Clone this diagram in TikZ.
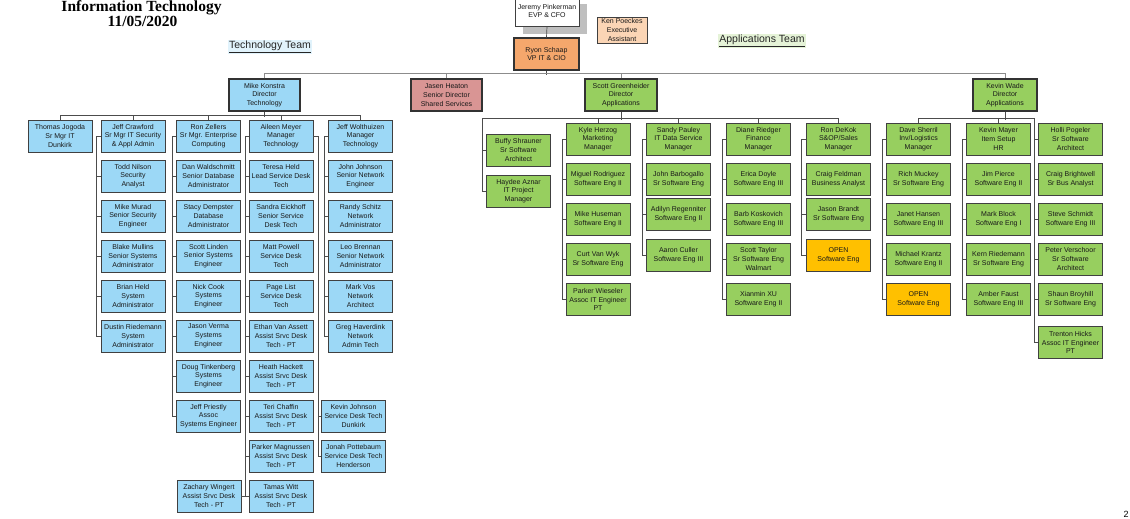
\documentclass[tikz,border=0pt]{standalone}
\usepackage{fontspec}
\setmainfont{Liberation Sans}
\newfontfamily\titlefont{Liberation Serif}
\usetikzlibrary{shadows}
\definecolor{techblue}{HTML}{9CD8F6}
\definecolor{appgreen}{HTML}{97CF5F}
\definecolor{openyellow}{HTML}{FFC000}
\definecolor{cioorange}{HTML}{F5A76C}
\definecolor{assistpeach}{HTML}{FBD5B5}
\definecolor{sharedred}{HTML}{D99594}
\tikzset{
  box/.style={draw=black!75, line width=0.7pt, minimum width=64pt, minimum height=32pt,
    inner sep=0pt, align=center, font=\fontsize{7}{8.7}\selectfont, text=black!90},
  tbox/.style={box, fill=techblue},
  abox/.style={box, fill=appgreen},
  obox/.style={box, fill=openyellow},
  dirbox/.style={line width=1.3pt, draw=black!80},
  conn/.style={draw=black!70, line width=0.7pt},
  teamlabel/.style={inner sep=1pt, font=\fontsize{10.5}{12}\selectfont, text=black!85}
}
\begin{document}
\begin{tikzpicture}[x=1pt,y=-1pt]
    \useasboundingbox (0,0) rectangle (1130,519);
    %% Title
    \node[font=\titlefont\bfseries\fontsize{15.5}{17}\selectfont, anchor=base] (title) at (141.5,11.2) {Information Technology};
    \node[font=\titlefont\bfseries\fontsize{15.5}{17}\selectfont, anchor=base] (titledate) at (142.5,27) {11/05/2020};
    \node[teamlabel, fill=techblue!30] (techteam) at (270,47) {\underline{Technology Team}};
    \node[teamlabel, fill=appgreen!25] (appteam) at (762,41) {\underline{Applications Team}};
    %% Executives
    \node[box, fill=white, minimum height=30pt,
      drop shadow={shadow xshift=8pt, shadow yshift=-8pt, fill=black!25, opacity=1}] (jeremy) at (547,11) {Jeremy Pinkerman\\EVP \& CFO};
    \node[box, fill=assistpeach, minimum width=50pt, minimum height=26pt] (poeckes) at (622,30) {Ken Poeckes\\Executive\\Assistant};
    \node[box, dirbox, fill=cioorange, minimum width=65pt] (ryon) at (546.5,54) {Ryon Schaap\\VP IT \& CIO};
    %% Directors
    \node[tbox, dirbox, minimum width=71pt] (konstra) at (264.5,95) {Mike Konstra\\Director\\Technology};
    \node[box, dirbox, fill=sharedred, minimum width=71pt] (heaton) at (446.5,95) {Jasen Heaton\\Senior Director\\Shared Services};
    \node[abox, dirbox, minimum width=72pt] (greenheider) at (621,95) {Scott Greenheider\\Director\\Applications};
    \node[abox, dirbox] (wade) at (1005,95) {Kevin Wade\\Director\\Applications};
    %% Technology team
    \node[tbox] (thomas) at (60,136) {Thomas Jogoda\\Sr Mgr IT\\Dunkirk};
    \node[tbox] (crawford) at (133,136) {Jeff Crawford\\Sr Mgr IT Security\\\& Appl Admin};
    \node[tbox] (nilson) at (133,176) {Todd Nilson\\Security\\Analyst};
    \node[tbox] (murad) at (133,216) {Mike Murad\\Senior Security\\Engineer};
    \node[tbox] (mullins) at (133,256) {Blake Mullins\\Senior Systems\\Administrator};
    \node[tbox] (held) at (133,296) {Brian Held\\System\\Administrator};
    \node[tbox] (riedemann) at (133,336) {Dustin Riedemann\\System\\Administrator};
    \node[tbox] (zellers) at (208.5,136) {Ron Zellers\\Sr Mgr. Enterprise\\Computing};
    \node[tbox] (waldschmitt) at (208.5,176) {Dan Waldschmitt\\Senior Database\\Administrator};
    \node[tbox] (dempster) at (208.5,216) {Stacy Dempster\\Database\\Administrator};
    \node[tbox] (linden) at (208.5,256) {Scott Linden\\Senior Systems\\Engineer};
    \node[tbox] (cook) at (208.5,296) {Nick Cook\\Systems\\Engineer};
    \node[tbox] (verma) at (208.5,336) {Jason Verma\\Systems\\Engineer};
    \node[tbox] (tinkenberg) at (208.5,376) {Doug Tinkenberg\\Systems\\Engineer};
    \node[tbox] (priestly) at (208.5,416) {Jeff Priestly\\Assoc\\Systems Engineer};
    \node[tbox] (wingert) at (209,496) {Zachary Wingert\\Assist Srvc Desk\\Tech - PT};
    \node[tbox] (aileen) at (281,136) {Aileen Meyer\\Manager\\Technology};
    \node[tbox] (teresa) at (281,176) {Teresa Held\\Lead Service Desk\\Tech};
    \node[tbox] (eickhoff) at (281,216) {Sandra Eickhoff\\Senior Service\\Desk Tech};
    \node[tbox] (powell) at (281,256) {Matt Powell\\Service Desk\\Tech};
    \node[tbox] (pagelist) at (281,296) {Page List\\Service Desk\\Tech};
    \node[tbox] (vanassett) at (281,336) {Ethan Van Assett\\Assist Srvc Desk\\Tech - PT};
    \node[tbox] (hackett) at (281,376) {Heath Hackett\\Assist Srvc Desk\\Tech - PT};
    \node[tbox] (chaffin) at (281,416) {Teri Chaffin\\Assist Srvc Desk\\Tech - PT};
    \node[tbox] (magnussen) at (281,456) {Parker Magnussen\\Assist Srvc Desk\\Tech - PT};
    \node[tbox] (witt) at (281,496) {Tamas Witt\\Assist Srvc Desk\\Tech - PT};
    \node[tbox] (wolthuizen) at (360.5,136) {Jeff Wolthuizen\\Manager\\Technology};
    \node[tbox] (jjohnson) at (360.5,176) {John Johnson\\Senior Network\\Engineer};
    \node[tbox] (schitz) at (360.5,216) {Randy Schitz\\Network\\Administrator};
    \node[tbox] (brennan) at (360.5,256) {Leo Brennan\\Senior Network\\Administrator};
    \node[tbox] (vos) at (360.5,296) {Mark Vos\\Network\\Architect};
    \node[tbox] (haverdink) at (360.5,336) {Greg Haverdink\\Network\\Admin Tech};
    \node[tbox] (kjohnson) at (353.5,416) {Kevin Johnson\\Service Desk Tech\\Dunkirk};
    \node[tbox] (pottebaum) at (353.5,456) {Jonah Pottebaum\\Service Desk Tech\\Henderson};
    %% Applications team
    \node[abox] (shrauner) at (518.5,150) {Buffy Shrauner\\Sr Software\\Architect};
    \node[abox] (aznar) at (518.5,191) {Haydee Aznar\\IT Project\\Manager};
    \node[abox] (herzog) at (598,139) {Kyle Herzog\\Marketing\\Manager};
    \node[abox] (rodriguez) at (598,179) {Miguel Rodriguez\\Software Eng II};
    \node[abox] (huseman) at (598,219) {Mike Huseman\\Software Eng II};
    \node[abox] (vanwyk) at (598,259) {Curt Van Wyk\\Sr Software Eng};
    \node[abox] (wieseler) at (598,299.5) {Parker Wieseler\\Assoc IT Engineer\\PT};
    \node[abox] (pauley) at (678.5,139) {Sandy Pauley\\IT Data Service\\Manager};
    \node[abox] (barbogallo) at (678.5,179) {John Barbogallo\\Sr Software Eng};
    \node[abox] (regenniter) at (678.5,214) {Adilyn Regenniter\\Software Eng II};
    \node[abox] (culler) at (678.5,255) {Aaron Culler\\Software Eng III};
    \node[abox] (riedger) at (758.5,139) {Diane Riedger\\Finance\\Manager};
    \node[abox] (doyle) at (758.5,179) {Erica Doyle\\Software Eng III};
    \node[abox] (koskovich) at (758.5,219) {Barb Koskovich\\Software Eng III};
    \node[abox] (taylor) at (758.5,259) {Scott Taylor\\Sr Software Eng\\Walmart};
    \node[abox] (xu) at (758.5,299.5) {Xianmin XU\\Software Eng II};
    \node[abox] (dekok) at (838.5,139) {Ron DeKok\\S\&OP/Sales\\Manager};
    \node[abox] (feldman) at (838.5,179) {Craig Feldman\\Business Analyst};
    \node[abox] (brandt) at (838.5,214) {Jason Brandt\\Sr Software Eng};
    \node[obox] (openone) at (838.5,255) {OPEN\\Software Eng};
    \node[abox] (sherril) at (918.5,139) {Dave Sherril\\Inv/Logistics\\Manager};
    \node[abox] (muckey) at (918.5,179) {Rich Muckey\\Sr Software Eng};
    \node[abox] (hansen) at (918.5,219) {Janet Hansen\\Software Eng III};
    \node[abox] (krantz) at (918.5,259) {Michael Krantz\\Software Eng II};
    \node[obox] (opentwo) at (918.5,299.5) {OPEN\\Software Eng};
    \node[abox] (mayer) at (998.5,139) {Kevin Mayer\\Item Setup\\HR};
    \node[abox] (pierce) at (998.5,179) {Jim Pierce\\Software Eng II};
    \node[abox] (block) at (998.5,219) {Mark Block\\Software Eng I};
    \node[abox] (kriedemann) at (998.5,259) {Kern Riedemann\\Sr Software Eng};
    \node[abox] (faust) at (998.5,299.5) {Amber Faust\\Software Eng III};
    \node[abox] (pogeler) at (1070.5,139) {Holli Pogeler\\Sr Software\\Architect};
    \node[abox] (brightwell) at (1070.5,179) {Craig Brightwell\\Sr Bus Analyst};
    \node[abox] (schmidt) at (1070.5,219) {Steve Schmidt\\Software Eng III};
    \node[abox] (verschoor) at (1070.5,259) {Peter Verschoor\\Sr Software\\Architect};
    \node[abox] (broyhill) at (1070.5,299.5) {Shaun Broyhill\\Sr Software Eng};
    \node[abox] (hicks) at (1070.5,342.5) {Trenton Hicks\\Assoc IT Engineer\\PT};
    %% Page number
    \node[font=\fontsize{9}{10}\selectfont, anchor=south west, inner sep=0pt] (pagenum) at (1123.5,518) {2};
    %% Upper connectors
    \draw[conn] (jeremy.south) -- (ryon.north);
    \draw[conn] (ryon.south) -- ++(0,4);
    \draw[conn, draw=black!45] (konstra.north) -- ++(0,-5) -| (wade.north);
    \foreach \n in {heaton,greenheider}
        \draw[conn, draw=black!45] (\n.north) -- ++(0,-5);
    %% Technology connectors
    \draw[conn] (konstra.south) -- ++(0,5);
    \draw[conn] (thomas.north) -- ++(0,-4) -| (wolthuizen.north);
    \foreach \n in {crawford,zellers,aileen}
        \draw[conn] (\n.north) -- ++(0,-4);
    \foreach \n in {nilson,murad,mullins,held,riedemann}
        \draw[conn] (crawford.west) -- ++(-4,0) |- (\n.west);
    \foreach \n in {waldschmitt,dempster,linden,cook,verma,tinkenberg,priestly}
        \draw[conn] (zellers.west) -- ++(-4,0) |- (\n.west);
    \foreach \n in {teresa,eickhoff,powell,pagelist,vanassett,hackett,chaffin,magnussen,witt}
        \draw[conn] (aileen.west) -- ++(-3,0) |- (\n.west);
    \draw[conn] (aileen.west) -- ++(-3,0) |- (wingert.east);
    \foreach \n in {kjohnson,pottebaum}
        \draw[conn] (aileen.east) -- ++(5,0) |- (\n.west);
    \foreach \n in {jjohnson,schitz,brennan,vos,haverdink}
        \draw[conn] (wolthuizen.west) -- ++(-4,0) |- (\n.west);
    %% Applications connectors
    \draw[conn] (greenheider.south) -- ++(0,8);
    \draw[conn] (herzog.north) -- ++(0,-4) -| (dekok.north);
    \draw[conn] (herzog.north) -- ++(0,-4) -| ([xshift=-3.5pt]aznar.west) -- (aznar.west);
    \draw[conn] (shrauner.west) -- ++(-3.5,0);
    \foreach \n in {pauley,riedger}
        \draw[conn] (\n.north) -- ++(0,-4);
    \foreach \n in {rodriguez,huseman,vanwyk,wieseler}
        \draw[conn] (herzog.west) -- ++(-3.5,0) |- (\n.west);
    \foreach \n in {barbogallo,regenniter,culler}
        \draw[conn] (pauley.west) -- ++(-3.5,0) |- (\n.west);
    \foreach \n in {doyle,koskovich,taylor,xu}
        \draw[conn] (riedger.west) -- ++(-4,0) |- (\n.west);
    \foreach \n in {feldman,brandt,openone}
        \draw[conn] (dekok.west) -- ++(-4.5,0) |- (\n.west);
    \draw[conn] (wade.south) -- ++(0,8);
    \draw[conn] (sherril.north) -- ++(0,-4) -| ([xshift=-4pt]hicks.west) -- (hicks.west);
    \draw[conn] (mayer.north) -- ++(0,-4);
    \foreach \n in {pogeler,brightwell,schmidt,verschoor,broyhill}
        \draw[conn] (\n.west) -- ++(-4,0);
    \foreach \n in {muckey,hansen,krantz,opentwo}
        \draw[conn] (sherril.west) -- ++(-4,0) |- (\n.west);
    \foreach \n in {pierce,block,kriedemann,faust}
        \draw[conn] (mayer.west) -- ++(-4,0) |- (\n.west);
\end{tikzpicture}
\end{document}
